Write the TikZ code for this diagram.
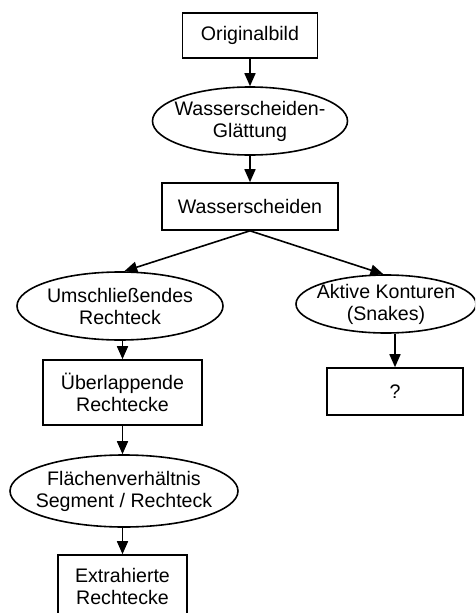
\documentclass[tikz,border=0pt]{standalone}
\usepackage{fontspec}
\setmainfont{Liberation Sans}
\usetikzlibrary{shapes.geometric,arrows.meta}
\begin{document}
\begin{tikzpicture}[x=1pt,y=-1pt,
  every node/.style={font=\fontsize{19.6}{22}\selectfont, align=center},
  boxnode/.style={draw, line width=1.6pt, inner sep=0pt},
  ellnode/.style={draw, ellipse, line width=1.6pt, inner sep=-30pt},
  arr/.style={line width=1.6pt, -{Triangle[length=13pt,width=11pt]}}]
\useasboundingbox (0,0) rectangle (475,613);
\clip (0,0) rectangle (475,613);
\fill[white] (0,0) rectangle (475,613);
\node[boxnode, minimum width=135pt, minimum height=45pt] (orig) at (250,35.5) {Originalbild};
\node[ellnode, minimum width=195pt, minimum height=68pt] (glatt) at (250,121) {Wasserscheiden-\\Glättung};
\node[boxnode, minimum width=176pt, minimum height=47pt] (ws) at (250,206.5) {Wasserscheiden};
\node[ellnode, minimum width=206pt, minimum height=68pt] (um) at (120,306) {Umschließendes\\Rechteck};
\node[ellnode, minimum width=180pt, minimum height=58pt] (ak) at (386,304) {Aktive Konturen\\(Snakes)};
\node[boxnode, minimum width=159pt, minimum height=65pt] (ueb) at (122.5,392.5) {Überlappende\\Rechtecke};
\node[boxnode, minimum width=136pt, minimum height=47pt] (q) at (395,391.5) {?};
\node[ellnode, minimum width=228pt, minimum height=72pt] (fl) at (124,491) {Flächenverhältnis\\Segment / Rechteck};
\node[boxnode, minimum width=129pt, minimum height=62pt] (ex) at (122.5,586) {Extrahierte\\Rechtecke};
\draw[arr] (orig) -- (glatt);
\draw[arr] (glatt) -- (ws);
\draw[arr] (ws.south) -- (um.83);
\draw[arr] (ws.south) -- (ak.95);
\draw[arr] (um.south -| ueb.north) -- (ueb.north);
\draw[arr] (ak.south -| q.north) -- (q.north);
\draw[arr] (ueb.south) -- (ueb.south |- fl.north);
\draw[arr] (fl.south -| ex.north) -- (ex.north);
\end{tikzpicture}
\end{document}
